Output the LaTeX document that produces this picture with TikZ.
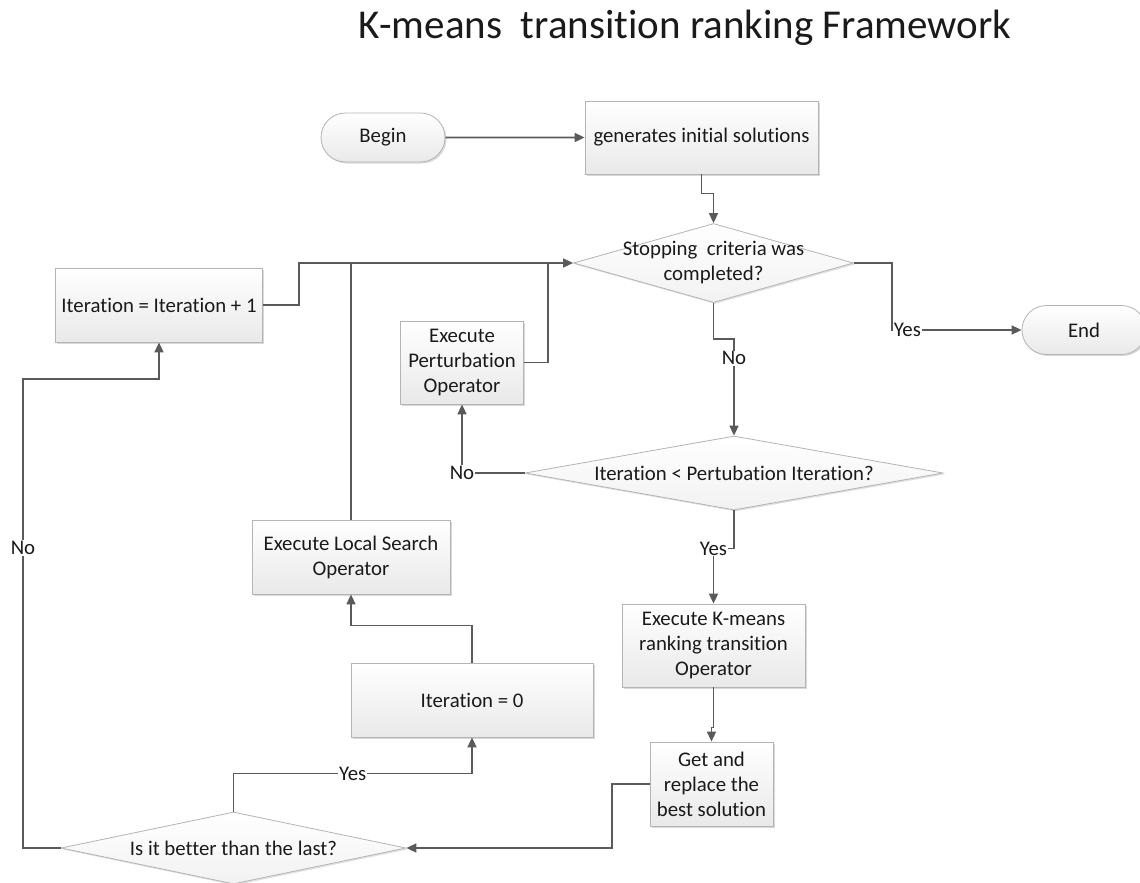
\documentclass[tikz,border=0pt]{standalone}
\usepackage{fontspec}
\setmainfont[Ligatures=NoCommon]{Carlito}
\usepackage{tikz}
\usetikzlibrary{arrows,arrows.meta,shapes.geometric,shapes.misc,shadows,positioning}

\definecolor{lineclr}{HTML}{5A5A5A}
\definecolor{boxline}{HTML}{B4B4B4}
\definecolor{boxfill}{HTML}{E9E9E9}
\definecolor{txtclr}{HTML}{1A1A1A}

\begin{document}
\begin{tikzpicture}[x=1pt,y=-1pt,->,>={Triangle[length=10pt,width=9pt]},line width=1.6pt,
                    draw=lineclr,every node/.style={font=\fontsize{20.8}{25}\selectfont,text=txtclr}]
  \tikzstyle{box}=[rectangle,draw=boxline,line width=0.8pt,top color=white,bottom color=boxfill,
                   align=center,inner sep=0pt,
                   drop shadow={shadow xshift=1.5pt,shadow yshift=-1.5pt,fill=black,opacity=0.15}]
  \tikzstyle{term}=[box,rounded rectangle,minimum width=124pt,minimum height=49pt]
  \tikzstyle{decision}=[diamond,draw=boxline,line width=0.8pt,top color=white,bottom color=boxfill!60,
                   inner sep=0pt,
                   drop shadow={shadow xshift=1.5pt,shadow yshift=-1.5pt,fill=black,opacity=0.12}]
  \tikzstyle{lbl}=[fill=white,inner sep=1pt]

  \useasboundingbox (0,0) rectangle (1140,883);

  \node[font=\fontsize{41}{48}\selectfont,anchor=base] (title) at (685,38.5)
       {K-means\ \ transition ranking Framework};

  \node[term] (begin) at (383,137.5) {Begin};
  \node[box,minimum width=233pt,minimum height=73pt] (gen) [right of=begin,node distance=318.5pt]
       {generates initial solutions};
  \node[decision,minimum width=280pt,minimum height=79pt,
        label={[name=stoptxt,align=center]center:{Stopping\ \ criteria was\\completed?}}] (stop) at (713.5,263) {};
  \node[term] (end) at (1084,330) {End};
  \node[box,minimum width=123pt,minimum height=83pt] (ptb) at (462,362.5) {Execute\\Perturbation\\Operator};
  \node[box,minimum width=207pt,minimum height=74pt] (inc) at (159,305) {Iteration = Iteration + 1};
  \node[decision,minimum width=418pt,minimum height=74pt,
        label={[name=cmptxt]center:Iteration < Pertubation Iteration?}] (cmp) at (734,473) {};
  \node[box,minimum width=183pt,minimum height=83pt] (kmeans) at (713.5,645.5)
       {Execute K-means\\ranking transition\\Operator};
  \node[box,minimum width=123pt,minimum height=84pt] (get) at (711.5,784) {Get and\\replace the\\best solution};
  \node[decision,minimum width=345pt,minimum height=72pt,
        label={[name=bettertxt]center:Is it better than the last?}] (better) at (233.5,848) {};
  \node[box,minimum width=242pt,minimum height=74pt] (zero) at (472,700) {Iteration = 0};
  \node[box,minimum width=198pt,minimum height=74pt] (local) at (351,557) {Execute Local Search\\Operator};

  \coordinate (joinP) at (548,263);
  \coordinate (joinL) at (351,263);

  % main flow
  \draw (begin) -- (gen);
  \draw (gen.south) -- ++(0,19) -| (stop.north);
  \draw (stop.east) -- (892,263) -- (892,330) -- node[lbl,pos=0,anchor=west] (yesEnd) {Yes} (end.west);
  \draw (stop.south) -- ++(0,36) -| node[lbl,pos=0.6] (noCmp) {No} (cmp.north);
  \draw (cmp.west) -| node[lbl,pos=0.5] (noPtb) {No} (ptb.south);
  \draw[-] (ptb.east) -| (joinP);
  \draw (inc.east) -- (299,305) |- (stop.west);
  \draw[-] (local.north) -- (joinL);
  \draw (cmp.south) -- ++(0,38) -| node[lbl,pos=0.5] (yesKm) {Yes} (kmeans.north);
  \draw (kmeans.south) -- ++(0,40) -| (get.north);
  \draw (get.west) -- (612,784) |- (better.east);

  % loop back
  \draw (better.north) -- ++(0,-38) -| node[lbl,pos=0.25] (yesZero) {Yes} (zero.south);
  \draw (zero.north) -- ++(0,-37) -| (local.south);
  \draw (better.west) -| node[lbl,pos=0.82] (noInc) {No} (23,379) -| (inc.south);
\end{tikzpicture}
\end{document}
